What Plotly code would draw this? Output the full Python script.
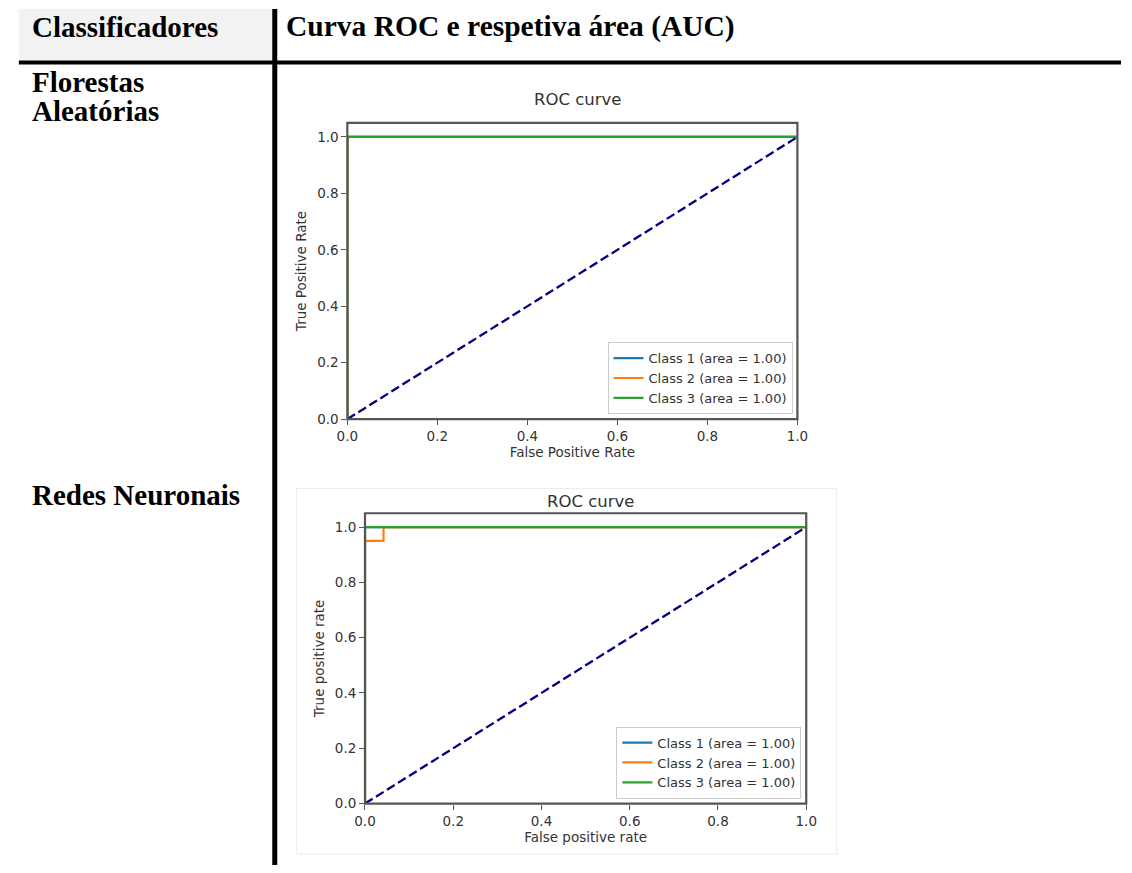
import plotly.graph_objects as go

W, H = 1132, 873

# ---------------- data ----------------
header_labels = ["Classificadores", "Curva ROC e respetiva área (AUC)"]
row_labels = [["Florestas", "Aleatórias"], ["Redes Neuronais"]]
chart_titles = ["ROC curve", "ROC curve"]
x_titles = ["False Positive Rate", "False positive rate"]
y_titles = ["True Positive Rate", "True positive rate"]
class_names = ["Class 1", "Class 2", "Class 3"]
class_auc = [1.00, 1.00, 1.00]
class_colors = ["#1f77b4", "#ff7f0e", "#2ca02c"]

# Random forest ROC points
rf_fpr = [[0.0, 0.0, 1.0], [0.0, 0.0, 1.0], [0.0, 0.0, 1.0]]
rf_tpr = [[0.0, 1.0, 1.0], [0.0, 1.0, 1.0], [0.0, 1.0, 1.0]]
# Neural network ROC points
nn_fpr = [[0.0, 0.0, 1.0], [0.0, 0.0, 0.042, 0.042, 1.0], [0.0, 0.0, 1.0]]
nn_tpr = [[0.0, 1.0, 1.0], [0.0, 0.95, 0.95, 1.0, 1.0], [0.0, 1.0, 1.0]]
diag = [0.0, 1.0]
tick_vals = [0.0, 0.2, 0.4, 0.6, 0.8, 1.0]
tick_text = ["0.0", "0.2", "0.4", "0.6", "0.8", "1.0"]


def px(x):
    return x / W


def py(y):
    return 1 - y / H


fig = go.Figure()

# plot geometry in pixels: (left, right, top, bottom, title_y)
boxes = [(343, 802, 124, 423, 100), (361, 811, 518, 811, 506)]
datasets = [(rf_fpr, rf_tpr), (nn_fpr, nn_tpr)]

SANS = "DejaVu Sans"
TXT = "#333333"
AX = "#555555"
FS = 13.5
LFS = 13

shapes = [
    dict(type="rect", xref="paper", yref="paper", x0=px(8), x1=px(267),
         y0=py(61), y1=py(9), fillcolor="#f2f2f2", line=dict(width=0), layer="below"),
    dict(type="line", xref="paper", yref="paper", x0=px(8), x1=px(1132),
         y0=py(63), y1=py(63), line=dict(color="black", width=4)),
    dict(type="line", xref="paper", yref="paper", x0=px(269), x1=px(269),
         y0=py(9), y1=py(873), line=dict(color="black", width=5)),
    dict(type="rect", xref="paper", yref="paper", x0=px(291), x1=px(842),
         y0=py(862), y1=py(493), line=dict(color="#ececec", width=1),
         fillcolor="rgba(0,0,0,0)", layer="below"),
]

for k, ((l, r, t, b, ty), (fprs, tprs)) in enumerate(zip(boxes, datasets)):
    xa = "x" if k == 0 else f"x{k+1}"
    ya = "y" if k == 0 else f"y{k+1}"
    leg = "legend" if k == 0 else f"legend{k+1}"
    for i in range(3):
        fig.add_trace(go.Scatter(
            x=fprs[i], y=tprs[i], mode="lines",
            line=dict(color=class_colors[i], width=2.2),
            name=f"{class_names[i]} (area = {class_auc[i]:.2f})",
            xaxis=xa, yaxis=ya, legend=leg, showlegend=True,
        ))
    fig.add_trace(go.Scatter(
        x=diag, y=diag, mode="lines",
        line=dict(color="#000080", width=2.3, dash="9px,4px"),
        showlegend=False, xaxis=xa, yaxis=ya,
    ))

    axis_common = dict(
        showline=False,
        ticks="outside", ticklen=5, tickcolor=AX, tickwidth=1.2,
        showgrid=False, zeroline=False,
        tickvals=tick_vals, ticktext=tick_text,
        tickfont=dict(family=SANS, size=FS, color=TXT),
    )
    xkey = "xaxis" if k == 0 else f"xaxis{k+1}"
    ykey = "yaxis" if k == 0 else f"yaxis{k+1}"
    fig.update_layout(**{
        xkey: dict(axis_common, domain=[px(l), px(r)], range=[0, 1],
                   anchor=ya,
                   title=dict(text=x_titles[k], standoff=3,
                              font=dict(family=SANS, size=FS, color=TXT))),
        ykey: dict(axis_common, domain=[py(b), py(t)], range=[0, 1.05],
                   anchor=xa,
                   title=dict(text=y_titles[k], standoff=7,
                              font=dict(family=SANS, size=FS, color=TXT))),
        leg: dict(x=px(r - 5), y=py(b - 5), xanchor="right", yanchor="bottom",
                  xref="paper", yref="paper",
                  bgcolor="rgba(255,255,255,0.85)", bordercolor="#cccccc",
                  borderwidth=1, font=dict(family=SANS, size=LFS, color=TXT),
                  itemwidth=30, tracegroupgap=0),
    })
    # axes frame (spines) drawn over the curves, as in matplotlib
    shapes.append(dict(type="rect", xref=f"{xa} domain", yref=f"{ya} domain",
                       x0=0, x1=1, y0=0, y1=1, line=dict(color=AX, width=2.2),
                       fillcolor="rgba(0,0,0,0)", layer="above"))
    fig.add_annotation(x=px((l + r) / 2 + 5), y=py(ty), xref="paper", yref="paper",
                       text=chart_titles[k], showarrow=False,
                       font=dict(family=SANS, size=16.5, color=TXT),
                       xanchor="center", yanchor="middle")

fig.update_layout(shapes=shapes)

SERIF = dict(family="Liberation Serif", size=29, color="black", weight="bold")
SERIF_H = dict(SERIF, size=29.5)
fig.add_annotation(x=px(19), y=py(27), xref="paper", yref="paper",
                   text=header_labels[0], showarrow=False, xanchor="left",
                   yanchor="middle", font=SERIF)
fig.add_annotation(x=px(278), y=py(27), xref="paper", yref="paper",
                   text=header_labels[1], showarrow=False, xanchor="left",
                   yanchor="middle", font=SERIF_H)
row_y = [[83, 112], [500]]
for labels, ys in zip(row_labels, row_y):
    for lab, yy in zip(labels, ys):
        fig.add_annotation(x=px(19), y=py(yy), xref="paper", yref="paper",
                           text=lab, showarrow=False, xanchor="left",
                           yanchor="middle", font=SERIF)

fig.update_layout(
    width=W, height=H, margin=dict(l=0, r=0, t=0, b=0),
    paper_bgcolor="white", plot_bgcolor="white",
)

fig.write_html(
    "out.html",
    config={"displayModeBar": False},
    post_script="document.body.style.margin='0';document.body.style.overflow='hidden';",
)
